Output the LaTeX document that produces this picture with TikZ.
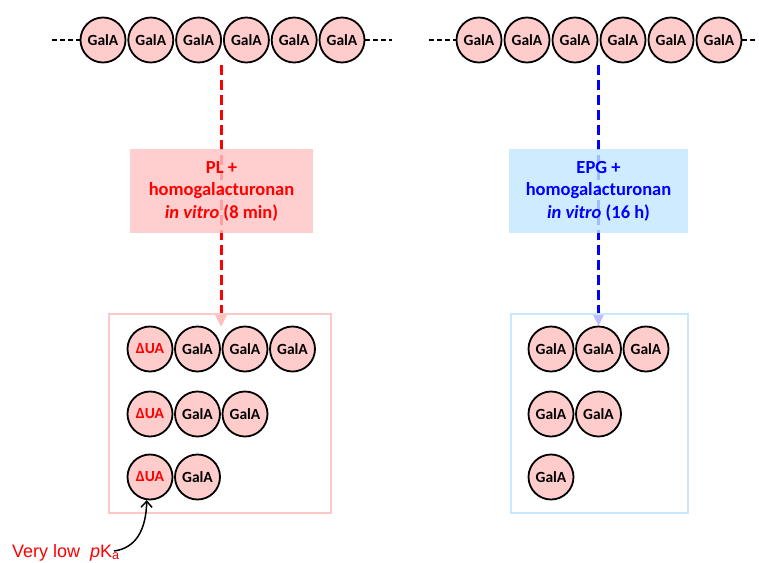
\documentclass[tikz,border=0pt]{standalone}
\usepackage{fontspec}
\setmainfont{Carlito}
\newfontfamily\arialfont{Liberation Sans}
\usetikzlibrary{arrows.meta}
\definecolor{galfill}{RGB}{255,204,204}
\definecolor{plfill}{RGB}{255,195,195}
\definecolor{epgfill}{RGB}{195,230,255}
\definecolor{lboxline}{RGB}{255,200,200}
\definecolor{rboxline}{RGB}{200,232,255}
\tikzset{
  sugar/.style={circle, draw=black, line width=1.8pt, fill=galfill, minimum size=45pt,
    inner sep=0pt, font=\bfseries\fontsize{15.5}{16}\selectfont},
  uasugar/.style={sugar, text=red},
  chaindash/.style={line width=1.5pt, dash pattern=on 5pt off 3pt},
  flow/.style={line width=3pt, dash pattern=on 10pt off 5pt,
    -{Triangle[width=11pt,length=12pt]}},
  condbox/.style={rectangle, fill opacity=0.82, text opacity=1, align=center,
    font=\bfseries\fontsize{18.5}{22.5}\selectfont, inner sep=0pt},
  prodbox/.style={rectangle, line width=1.5pt, fill=white, fill opacity=0.75}
}
\begin{document}
\begin{tikzpicture}[x=1pt,y=-1pt]
\useasboundingbox (0,0) rectangle (759,562);
% top chains
\foreach \i in {0,...,5} {
  \node[sugar] (a\i) at ({103+47.8*\i},40) {GalA};
  \node[sugar] (b\i) at ({479+48*\i},40) {GalA};
}
\coordinate (aL) at (52,40);
\coordinate (aR) at (392,40);
\coordinate (bL) at (429,40);
\coordinate (bR) at (758,40);
\draw[chaindash] (aL) -- (a0.west);
\draw[chaindash] (a5.east) -- (aR);
\draw[chaindash] (bL) -- (b0.west);
\draw[chaindash] (b5.east) -- (bR);
% flow arrows
\coordinate (rs) at (221,65);
\coordinate (re) at (221,327);
\coordinate (bs) at (598.5,65);
\coordinate (be) at (598.5,326);
\draw[flow, red] (rs) -- (re);
\draw[flow, blue] (bs) -- (be);
% condition boxes
\node[condbox, fill=plfill, text=red, minimum width=183pt, minimum height=84pt] (pl) at (221.5,191)
  {PL +\\homogalacturonan\\\textit{in vitro} (8 min)};
\node[condbox, fill=epgfill, text=blue, minimum width=179pt, minimum height=84pt] (epg) at (598.5,191)
  {EPG +\\homogalacturonan\\\textit{in vitro} (16 h)};
% product boxes
\node[prodbox, draw=lboxline, minimum width=222pt, minimum height=199pt] (lbox) at (220,413.5) {};
\node[prodbox, draw=rboxline, minimum width=177pt, minimum height=199pt] (rbox) at (599.5,413.5) {};
% left products
\node[uasugar] (l11) at (150,349) {ΔUA};
\node[sugar] (l12) at (197.5,349) {GalA};
\node[sugar] (l13) at (245,349) {GalA};
\node[sugar] (l14) at (292.5,349) {GalA};
\node[uasugar] (l21) at (150,414) {ΔUA};
\node[sugar] (l22) at (197.5,414) {GalA};
\node[sugar] (l23) at (245,414) {GalA};
\node[uasugar] (l31) at (150,477) {ΔUA};
\node[sugar] (l32) at (197.5,477) {GalA};
% right products
\node[sugar] (r11) at (551,349) {GalA};
\node[sugar] (r12) at (598.5,349) {GalA};
\node[sugar] (r13) at (646,349) {GalA};
\node[sugar] (r21) at (551,414) {GalA};
\node[sugar] (r22) at (598.5,414) {GalA};
\node[sugar] (r31) at (551,477) {GalA};
% pKa label
\node[anchor=base west, inner sep=0pt, text=red, font=\arialfont\fontsize{18}{20}\selectfont] (pka) at (12,557)
  {Very low\ \ \textit{p}K\textsubscript{a}};
\coordinate (cs) at (114,551);
\draw[line width=1.5pt, -{Straight Barb[length=6pt,width=11pt]}] (cs)
  .. controls (136,548) and (146,530) .. (l31.262);
\end{tikzpicture}
\end{document}
